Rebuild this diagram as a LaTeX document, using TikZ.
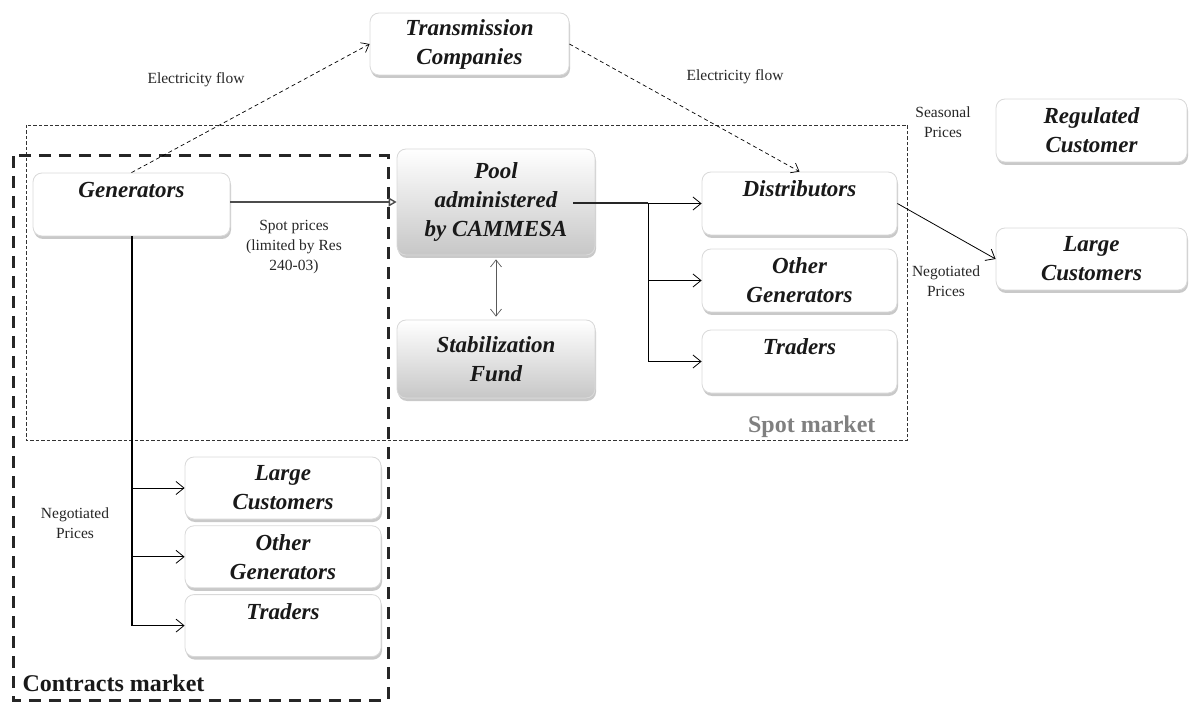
\documentclass[tikz,border=0pt]{standalone}
\usepackage{fontspec}
\setmainfont{Liberation Serif}
\usetikzlibrary{arrows.meta,positioning,shadows}
\tikzset{box/.style={rectangle, rounded corners=9pt, draw=black!15, fill=white, line width=0.8pt,
      minimum width=197pt, minimum height=63pt, inner sep=1pt, align=center, text=black!90,
      font=\fontsize{23}{29}\selectfont\bfseries\itshape,
      drop shadow={shadow xshift=1pt, shadow yshift=-3pt, opacity=0.3, fill=black!70}}}
\tikzset{greybox/.style={box, top color=white, bottom color=black!22}}
\tikzset{note/.style={font=\fontsize{15.5}{20}\selectfont, align=center, text=black!85}}
\tikzset{flow/.style={dash pattern=on 4pt off 3pt, line width=0.7pt,
      -{Straight Barb[length=7pt,width=11pt]}}}
\tikzset{branch/.style={line width=0.8pt, -{Straight Barb[length=8pt,width=13pt]}}}
\tikzset{trunk/.style={line width=2pt}}

\begin{document}
\begin{tikzpicture}[x=1pt,y=-1pt]
    \useasboundingbox (0,0) rectangle (1189,703);
    \draw[black!80, line width=0.8pt, dash pattern=on 3.5pt off 2pt] (26,125) rectangle (907,440);
    \draw[black!85, line width=3pt, dash pattern=on 12pt off 8pt] (13,156) rectangle (388,700);

    \node[box, minimum width=199pt, minimum height=62pt] (trans) at (469.5,44) {Transmission\\Companies};
    \node[box] (gen) at (131.5,204.5) {Generators\\\mbox{}};
    \node[greybox, minimum width=198pt, minimum height=106pt] (pool) at (496,202) {Pool\\administered\\by CAMMESA};
    \node[greybox, minimum width=198pt, minimum height=78pt] (stab) at (496,359) {Stabilization\\Fund};
    \node[box, minimum width=195pt] (dist) at (799.5,203.5) {Distributors\\\mbox{}};
    \node[box, minimum width=195pt] (ogen) at (799.5,280.5) {Other\\Generators};
    \node[box, minimum width=195pt] (trad) at (799.5,361.5) {Traders\\\mbox{}};
    \node[box, minimum width=191pt] (reg) at (1091.5,130.5) {Regulated\\Customer};
    \node[box, minimum width=191pt, minimum height=62pt] (lcus) at (1091.5,259) {Large\\Customers};
    \node[box, minimum width=196pt, minimum height=62pt] (clc) at (283,488) {Large\\Customers};
    \node[box, minimum width=196pt, minimum height=62pt, below=6pt of clc] (cog) {Other\\Generators};
    \node[box, minimum width=196pt, minimum height=62pt, below=6pt of cog] (ctr) {Traders\\\mbox{}};

    \node[note] (flowl) at (196,80) {Electricity flow};
    \node[note] (flowr) at (735,77) {Electricity flow};
    \node[note] (spot) at (294,247) {Spot prices\\(limited by Res\\240-03)};
    \node[note] (seas) at (943,122) {Seasonal\\Prices};
    \node[note] (negr) at (946,281.5) {Negotiated\\Prices};
    \node[note] (negl) at (75,523) {Negotiated\\Prices};
    \node[font=\fontsize{24}{28}\selectfont\bfseries, text=black!50, anchor=east] (spotm) at (879,427) {Spot market};
    \node[font=\fontsize{24}{28}\selectfont\bfseries, text=black!90, anchor=west] (contm) at (19,683) {Contracts market};

    \draw[flow] (gen.north) -- (trans.west);
    \draw[flow] (trans.east) -- (dist.north);
    \draw[black!70, line width=1.4pt, -{Triangle[open,length=8pt,width=9pt]}] (gen.east |- pool.west) -- (pool.west);
    \draw[black!65, line width=0.7pt, {Straight Barb[length=7pt,width=11pt]}-{Straight Barb[length=7pt,width=11pt]},
      shorten <=4pt, shorten >=3pt] (pool.south) -- (stab.north);
    \coordinate (poolout) at (573,203.5);
    \coordinate (junc) at (648,203.5);
    \draw[trunk, black!85] (poolout) -- (junc);
    \draw[branch] (junc) -- (dist.west);
    \draw[branch] (junc) |- (ogen.west);
    \draw[branch] (junc) |- (trad.west);
    \draw[branch] (dist.east) -- (lcus.west);

    \draw[trunk] (gen.south) -- (gen.south |- ctr.west);
    \draw[branch] (gen.south |- clc.west) -- (clc.west);
    \draw[branch] (gen.south |- cog.west) -- (cog.west);
    \draw[branch] (gen.south |- ctr.west) -- (ctr.west);
\end{tikzpicture}
\end{document}
